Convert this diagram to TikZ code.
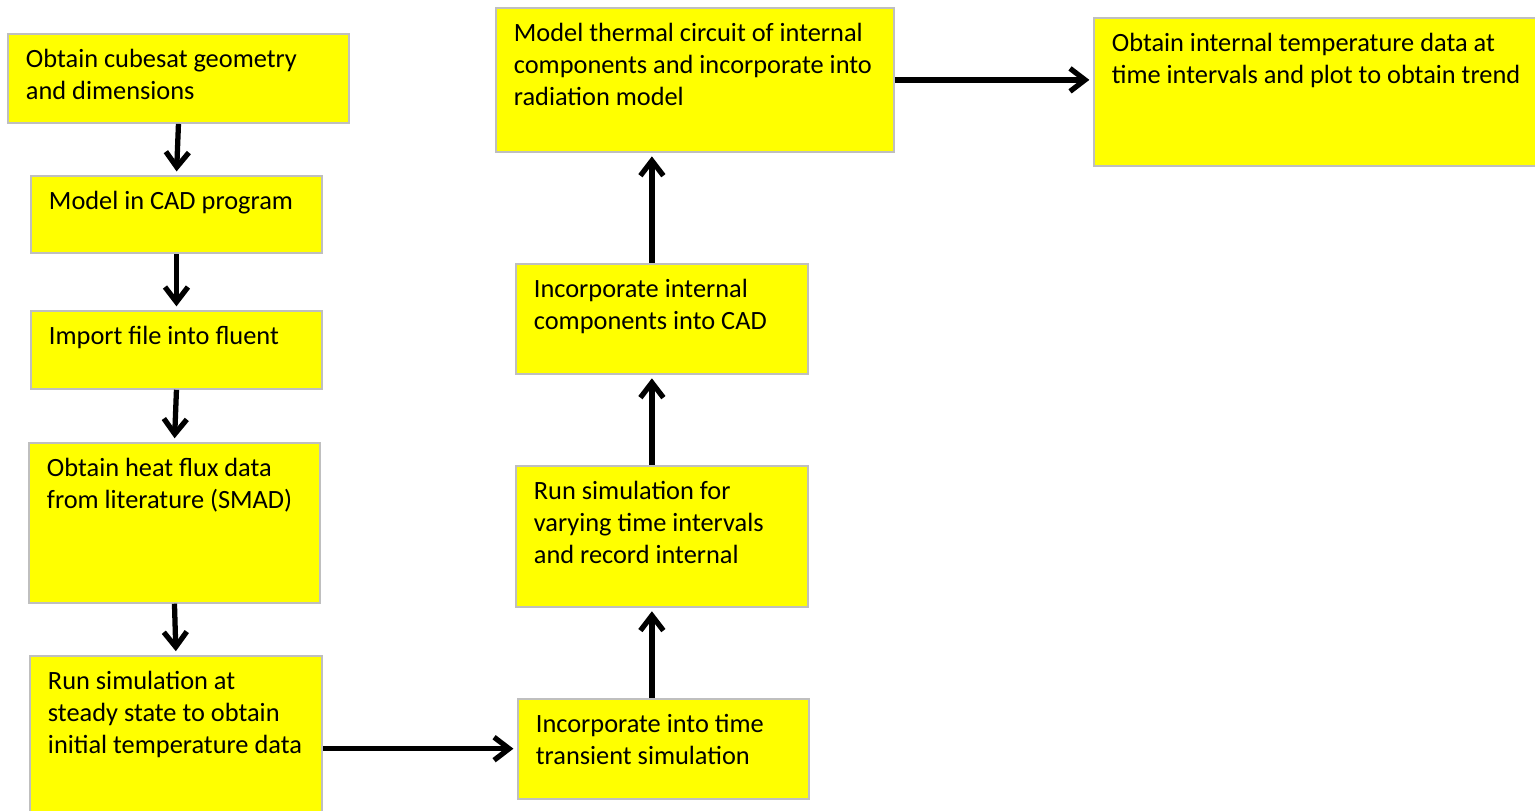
\documentclass[tikz,border=0pt]{standalone}
\usepackage{fontspec}
\setmainfont{Carlito}
\usetikzlibrary{positioning, arrows.meta}

\definecolor{boxyellow}{HTML}{FFFF00}
\definecolor{boxgray}{HTML}{BFBFBF}
\newcommand{\steptext}[3]{\parbox[c][#2cm][t]{#1cm}{\raggedright\leftskip=0.36cm\rightskip=0pt plus 4cm\vspace*{0.22cm}\strut #3}}

\begin{document}
\begin{tikzpicture}
    \tikzstyle{stepbox} = [draw=boxgray, fill=boxyellow, line width=1.1pt, inner sep=0pt, font=\fontsize{15}{18.2}\selectfont];
    \tikzstyle{flow} = [draw, line width=3pt, -{Straight Barb[length=0.3cm, width=0.46cm]}, shorten >=2pt];

    \clip (0, 0) rectangle (30.7, -16.22);

    \node[stepbox, anchor=north west] (geo) at (0.14, -0.66) {\steptext{6.82}{1.78}{Obtain cubesat geometry\\ and dimensions}};
    \node[stepbox, below = 1.02 of geo, xshift=-0.04cm] (cad) {\steptext{5.82}{1.54}{Model in CAD program}};
    \node[stepbox, below = 1.12 of cad] (fluent) {\steptext{5.82}{1.56}{Import file into fluent}};
    \node[stepbox, below = 1.04 of fluent, xshift=-0.04cm] (flux) {\steptext{5.82}{3.2}{Obtain heat flux data\\ from literature (SMAD)}};
    \node[stepbox, below = 1.02 of flux, xshift=0.03cm] (steady) {\steptext{5.84}{3.2}{Run simulation at\\ steady state to obtain\\ initial temperature data}};

    \node[stepbox, right = 3.88 of steady, yshift=-0.26cm] (transient) {\steptext{5.82}{2.0}{Incorporate into time\\ transient simulation}};
    \node[stepbox, above = 1.8 of transient, xshift=-0.03cm] (vary) {\steptext{5.84}{2.82}{Run simulation for\\ varying time intervals\\ and record internal}};
    \node[stepbox, above = 1.8 of vary] (intcad) {\steptext{5.84}{2.2}{Incorporate internal\\ components into CAD}};
    \node[stepbox, above = 2.2 of intcad, xshift=0.66cm] (circuit) {\steptext{7.96}{2.88}{Model thermal circuit of internal\\ components and incorporate into\\ radiation model}};
    \node[stepbox, right = 3.96 of circuit, yshift=-0.24cm] (trend) {\steptext{8.92}{2.96}{Obtain internal temperature data at\\ time intervals and plot to obtain trend}};

    \draw[flow] (geo.south) -- (cad.north);
    \draw[flow] (cad.south) -- (fluent.north);
    \draw[flow] (fluent.south) -- (flux.north);
    \draw[flow] (flux.south) -- (steady.north);

    \draw[flow] (steady.east |- transient.west) -- (transient.west);

    \draw[flow] ([xshift=-0.23cm]transient.north) -- ([xshift=-0.2cm]vary.south);
    \draw[flow] ([xshift=-0.2cm]vary.north) -- ([xshift=-0.2cm]intcad.south);
    \draw[flow] ([xshift=-0.2cm]intcad.north) -- ([xshift=-0.2cm]intcad.north |- circuit.south);

    \draw[flow] (circuit.east) -- (circuit.east -| trend.west);
\end{tikzpicture}
\end{document}
